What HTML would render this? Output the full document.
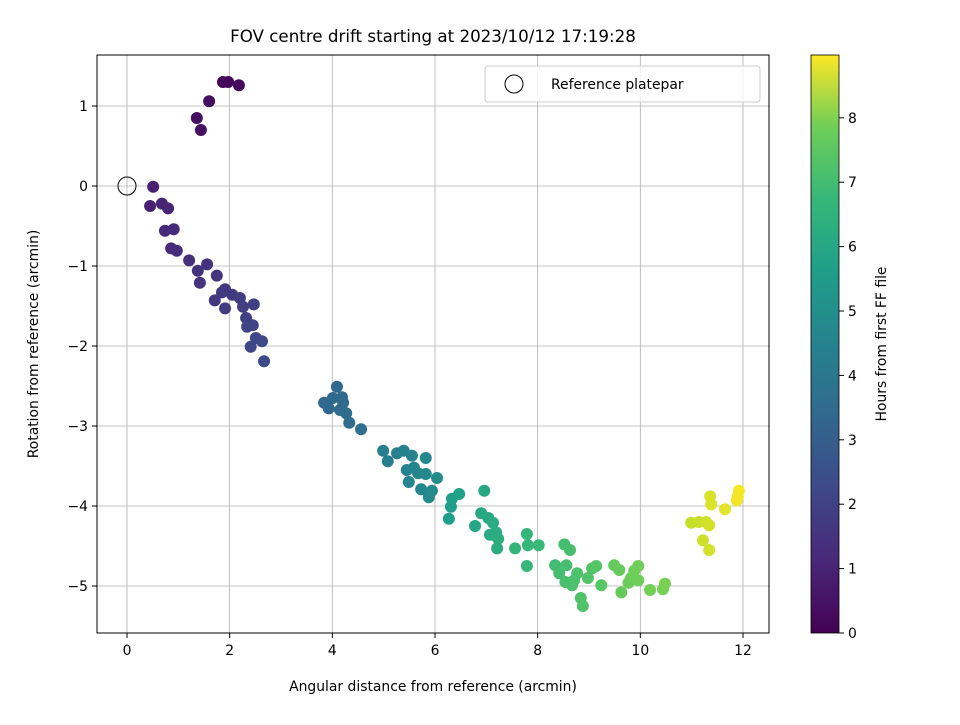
<!DOCTYPE html>
<html><head><meta charset="utf-8"><style>
body{margin:0;background:#fff;}
svg{font-family:"DejaVu Sans","Liberation Sans",sans-serif;}
</style></head><body>
<svg id="c" width="960" height="720" xmlns="http://www.w3.org/2000/svg">
<text x="433" y="42" font-size="16.7" text-anchor="middle">FOV centre drift starting at 2023/10/12 17:19:28</text>
<g id="grid"></g>
<g id="pts"></g>
<rect x="97" y="55" width="672" height="578" fill="none" stroke="#000" stroke-width="1"/>
<g id="ticks" font-size="13.9"></g>
<text x="433" y="691" font-size="13.9" text-anchor="middle">Angular distance from reference (arcmin)</text>
<text transform="translate(38,344) rotate(-90)" font-size="13.9" text-anchor="middle">Rotation from reference (arcmin)</text>
<g>
<rect x="485" y="66" width="275" height="36" rx="3" fill="#fff" stroke="#ccc" fill-opacity="0.8"/>
<circle cx="514" cy="84" r="9" fill="none" stroke="#000"/>
<text x="551" y="89" font-size="13.9">Reference platepar</text>
</g>
<defs><linearGradient id="vg" x1="0" y1="1" x2="0" y2="0">
<stop offset="0" stop-color="#440154"/><stop offset="0.125" stop-color="#482878"/><stop offset="0.25" stop-color="#3e4989"/><stop offset="0.375" stop-color="#31688e"/><stop offset="0.5" stop-color="#26828e"/><stop offset="0.625" stop-color="#1f9e89"/><stop offset="0.75" stop-color="#35b779"/><stop offset="0.875" stop-color="#6ece58"/><stop offset="1" stop-color="#fde725"/>
</linearGradient></defs>
<rect x="811" y="55" width="28" height="578" fill="url(#vg)" stroke="#000" stroke-width="0.8"/>
<g id="cbt" font-size="13.9"></g>
<text transform="translate(886,344) rotate(-90)" font-size="13.9" text-anchor="middle">Hours from first FF file</text>
</svg>
<script>
const xTicks=[0,2,4,6,8,10,12];
const yTicks=[1,0,-1,-2,-3,-4,-5];
const cTicks=[0,1,2,3,4,5,6,7,8];
const xs=[1.87,1.97,2.18,1.60,1.36,1.44,0.51,0.45,0.68,0.80,0.74,0.91,0.86,0.97,1.21,1.38,1.56,1.42,1.75,1.71,1.85,1.91,2.05,1.91,2.20,2.26,2.47,2.32,2.34,2.45,2.41,2.51,2.63,2.67,3.84,3.93,4.01,4.09,4.15,4.21,4.27,4.19,4.33,4.56,4.99,5.08,5.26,5.39,5.45,5.55,5.49,5.59,5.67,5.73,5.82,5.82,5.88,5.94,6.04,6.31,6.27,6.33,6.47,6.78,6.90,6.96,7.04,7.07,7.13,7.19,7.21,7.23,7.56,7.79,7.81,7.79,8.02,8.34,8.42,8.52,8.56,8.63,8.54,8.67,8.77,8.71,8.84,8.88,8.98,9.06,9.14,9.24,9.49,9.59,9.63,9.77,9.82,9.88,9.96,9.96,10.19,10.44,10.48,10.99,11.14,11.22,11.28,11.34,11.34,11.36,11.38,11.65,11.88,11.92,11.90];
const ys=[1.30,1.30,1.26,1.06,0.85,0.70,-0.01,-0.25,-0.22,-0.28,-0.56,-0.54,-0.78,-0.81,-0.93,-1.06,-0.98,-1.21,-1.12,-1.43,-1.33,-1.29,-1.36,-1.53,-1.40,-1.51,-1.48,-1.65,-1.76,-1.74,-2.01,-1.90,-1.94,-2.19,-2.71,-2.78,-2.65,-2.51,-2.80,-2.71,-2.84,-2.64,-2.96,-3.04,-3.31,-3.44,-3.34,-3.31,-3.55,-3.37,-3.70,-3.52,-3.59,-3.79,-3.40,-3.60,-3.89,-3.81,-3.65,-4.01,-4.16,-3.91,-3.85,-4.25,-4.09,-3.81,-4.15,-4.36,-4.21,-4.33,-4.53,-4.41,-4.53,-4.35,-4.49,-4.75,-4.49,-4.74,-4.84,-4.48,-4.74,-4.55,-4.95,-4.99,-4.84,-4.93,-5.15,-5.25,-4.90,-4.78,-4.75,-4.99,-4.74,-4.80,-5.08,-4.96,-4.90,-4.81,-4.75,-4.93,-5.05,-5.04,-4.97,-4.21,-4.20,-4.43,-4.20,-4.24,-4.55,-3.88,-3.98,-4.04,-3.93,-3.81,-3.88];
const hours=[0.1,0.15,0.2,0.3,0.35,0.4,0.8,0.85,0.9,0.95,1.0,1.05,1.1,1.15,1.2,1.3,1.3,1.35,1.4,1.45,1.5,1.5,1.55,1.6,1.6,1.65,1.7,1.75,1.8,1.85,1.9,1.95,2.0,2.05,3.0,3.0,3.05,3.05,3.1,3.1,3.15,3.1,3.2,3.3,3.8,3.85,3.9,3.95,4.0,4.0,4.05,4.1,4.1,4.15,4.2,4.2,4.25,4.3,4.35,5.0,5.0,5.05,5.1,5.3,5.35,5.4,5.4,5.45,5.5,5.5,5.55,5.6,5.9,5.95,6.0,6.0,6.05,6.2,6.25,6.25,6.3,6.3,6.35,6.35,6.4,6.4,6.45,6.45,6.5,6.5,6.55,6.6,6.8,6.85,6.85,6.9,6.95,6.95,7.0,7.0,7.05,7.1,7.15,8.2,8.25,8.3,8.35,8.4,8.4,8.45,8.5,8.6,8.8,8.9,8.85];
const X=v=>127+v*51.333, Y=v=>186-v*80, C=v=>633-v*64.4;
const ns="http://www.w3.org/2000/svg";
const vir=[[68,1,84],[72,40,120],[62,73,137],[49,104,142],[38,130,142],[31,158,137],[53,183,121],[110,206,88],[181,222,43],[253,231,37]];
function col(h){let t=Math.max(0,Math.min(1,h/8.98))*9,i=Math.min(8,Math.floor(t)),f=t-i,a=vir[i],b=vir[i+1];return `rgb(${a.map((c,k)=>Math.round(c+(b[k]-c)*f)).join(',')})`;}
function mk(tag,at,p){const e=document.createElementNS(ns,tag);for(const k in at)e.setAttribute(k,at[k]);p.appendChild(e);return e;}
const g=document.getElementById('grid'),tk=document.getElementById('ticks'),pts=document.getElementById('pts'),cb=document.getElementById('cbt');
xTicks.forEach(v=>{const x=X(v);
const l=mk('line',{x1:x,x2:x,y1:55,y2:633,stroke:'#b0b0b0','stroke-width':0.8},g);


mk('line',{x1:x,x2:x,y1:633,y2:638,stroke:'#000'},tk);
const t=mk('text',{x:x,y:655,'text-anchor':'middle'},tk);t.textContent=String(v).replace('-','\u2212');

});
yTicks.forEach(v=>{const y=Y(v);
const l=mk('line',{x1:97,x2:769,y1:y,y2:y,stroke:'#b0b0b0','stroke-width':0.8},g);


mk('line',{x1:92,x2:97,y1:y,y2:y,stroke:'#000'},tk);
const t=mk('text',{x:88,y:y+5,'text-anchor':'end'},tk);t.textContent=String(v).replace('-','\u2212');

});
cTicks.forEach(v=>{const y=C(v);
mk('line',{x1:839,x2:844,y1:y,y2:y,stroke:'#000'},cb);
const t=mk('text',{x:848,y:y+5},cb);t.textContent=v;

});
xs.forEach((v,i)=>{const c=mk('circle',{cx:X(v),cy:Y(ys[i]),r:6,fill:col(hours[i])},pts);

});
const r=mk('circle',{cx:X(0),cy:Y(0),r:9,fill:'none',stroke:'#000'},pts);


</script>
</body></html>
